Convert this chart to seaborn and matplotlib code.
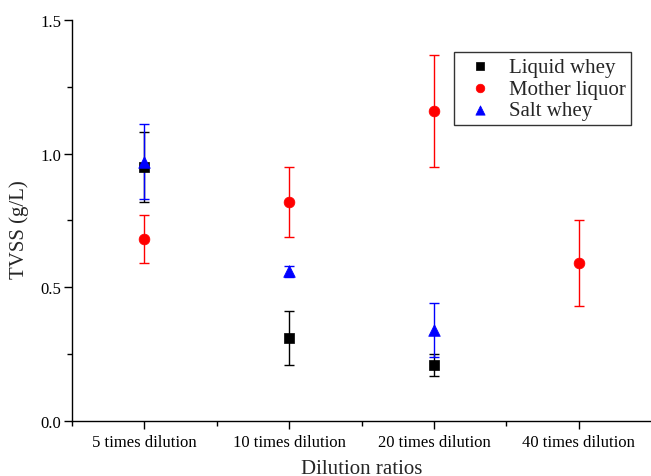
import matplotlib
matplotlib.use("Agg")
import matplotlib.pyplot as plt
import seaborn as sns
import pandas as pd
import numpy as np
from matplotlib.ticker import FixedLocator, MultipleLocator

categories = ["5 times dilution", "10 times dilution", "20 times dilution", "40 times dilution"]
series = ["Liquid whey", "Mother liquor", "Salt whey"]

liquid_whey = [0.95, 0.31, 0.21, None]
liquid_whey_err = [0.13, 0.10, 0.04, None]
mother_liquor = [0.68, 0.82, 1.16, 0.59]
mother_liquor_err = [0.09, 0.13, 0.21, 0.16]
salt_whey = [0.97, 0.56, 0.34, None]
salt_whey_err = [0.14, 0.02, 0.10, None]

colors = {"Liquid whey": "black", "Mother liquor": "red", "Salt whey": "blue"}
markers = {"Liquid whey": "s", "Mother liquor": "o", "Salt whey": "^"}
sizes = {"Liquid whey": 45, "Mother liquor": 60, "Salt whey": 70}

rows = []
for name, vals, errs in [("Liquid whey", liquid_whey, liquid_whey_err),
                         ("Mother liquor", mother_liquor, mother_liquor_err),
                         ("Salt whey", salt_whey, salt_whey_err)]:
    for i, (v, e) in enumerate(zip(vals, errs)):
        if v is not None:
            rows.append({"Dilution": categories[i], "pos": i, "TVSS": v, "err": e, "Series": name})
df = pd.DataFrame(rows)

sns.set_style("ticks")
plt.rcParams['font.family'] = ['Liberation Serif', 'DejaVu Serif']
plt.rcParams['mathtext.fontset'] = 'stix'

fig = plt.figure(figsize=(6.51, 4.77), dpi=100)
ax = fig.add_axes([0.1106, 0.1153, 0.8894, 0.8407])

# error bars first
for name in series:
    d = df[df["Series"] == name]
    ax.errorbar(d["pos"], d["TVSS"], yerr=d["err"], fmt="none", ecolor=colors[name],
                elinewidth=1.0, capsize=3.3, capthick=1.0, zorder=2)

for name in series:
    d = df[df["Series"] == name]
    sns.scatterplot(data=d, x="pos", y="TVSS", ax=ax, color=colors[name],
                    marker=markers[name], s=sizes[name], edgecolor=colors[name],
                    linewidth=0.5, label=name, zorder=3)

ax.set_xlim(-0.5, 3.5)
ax.set_ylim(0, 1.5)
ax.xaxis.set_major_locator(FixedLocator(range(len(categories))))
ax.set_xticklabels(categories)
ax.xaxis.set_minor_locator(FixedLocator([-0.5, 0.5, 1.5, 2.5]))
ax.yaxis.set_major_locator(MultipleLocator(0.5))
ax.yaxis.set_minor_locator(MultipleLocator(0.25))
ax.yaxis.set_major_formatter(matplotlib.ticker.FormatStrFormatter("%.1f"))

ax.tick_params(axis="both", which="major", direction="out", length=6, width=1.0,
               labelsize=12, color="black", labelcolor="black")
ax.tick_params(axis="both", which="minor", direction="out", length=3.5, width=1.0, color="black")
ax.tick_params(axis="x", which="major", pad=3.5)
ax.tick_params(axis="y", which="major", pad=1.5)

for s in ["top", "right"]:
    ax.spines[s].set_visible(False)
for s in ["left", "bottom"]:
    ax.spines[s].set_linewidth(1.0)
    ax.spines[s].set_color("black")

ax.set_xlabel("Dilution ratios", fontsize=15, labelpad=6)
ax.set_ylabel("TVSS (g/L)", fontsize=15)
ax.yaxis.set_label_coords(-0.075, 0.48)

leg = ax.legend(loc="upper left", bbox_to_anchor=(0.66, 0.92), frameon=True, fancybox=False,
                edgecolor="black", fontsize=15, handletextpad=0.4, borderpad=0.25,
                labelspacing=0.1, markerscale=0.8, handlelength=2.0, borderaxespad=0)
leg.get_frame().set_linewidth(1.0)

fig.savefig("out.png", dpi=100)
